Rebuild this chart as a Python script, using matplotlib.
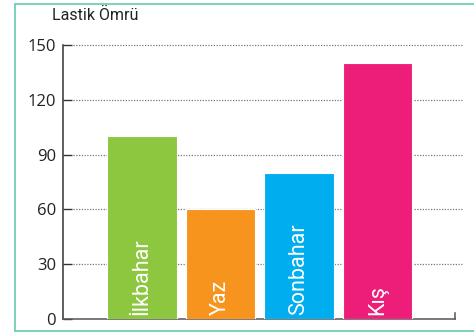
import matplotlib.pyplot as plt
from matplotlib.lines import Line2D

seasons = ['İlkbahar', 'Yaz', 'Sonbahar', 'Kış']
tyre_life = [100, 60, 80, 140]
bar_colors = ['#8dc63f', '#f7941d', '#00aeef', '#ed1e79']
y_ticks = [0, 30, 60, 90, 120, 150]

fig = plt.figure(figsize=(4.74, 3.35), dpi=100)
ax = fig.add_axes([63/474, 15.7/335, (462-63)/474, (319.3-44.7)/335])

x = range(len(seasons))
ax.bar(x, tyre_life, width=0.88, color=bar_colors, edgecolor='white',
       linewidth=0.8, zorder=3)

# season names written vertically inside each bar
for i, name in enumerate(seasons):
    ax.text(i, 2.5, name, rotation=90, ha='center', va='bottom',
            color='white', fontsize=15.5, family='Roboto', zorder=4)

# dotted guide lines
for v in y_ticks[1:]:
    ax.plot([-0.88, 4.076], [v, v], ls=(0, (1, 1.2)), color='#777777',
            lw=0.9, zorder=1, clip_on=False)

ax.set_xticks([])
ax.set_yticks(y_ticks)
ax.set_yticklabels([str(v) for v in y_ticks], family='Open Sans', fontsize=12,
                   color='#222222')
ax.tick_params(axis='y', direction='in', length=6.5, width=1.0,
               color='#333333', pad=5)

for s in ['top', 'right']:
    ax.spines[s].set_visible(False)
ax.spines['left'].set_color('#333333')
ax.spines['left'].set_linewidth(1.1)
ax.spines['bottom'].set_color('#555555')
ax.spines['bottom'].set_linewidth(1.1)
ax.spines['bottom'].set_bounds(-1.006, 3.987)
ax.plot([3.987, 3.987], [0, 3.5], color='#555555', lw=1.1, clip_on=False)

ax.set_xlim(-1.006, 4.076)
ax.set_ylim(0, 150)

fig.text(52/474, 1 - 15/335, 'Lastik Ömrü', family='Roboto', fontsize=11.5,
         color='#222222', va='center', ha='left')

# frame around the chart
frame_color = '#6fcfb8'
fig.add_artist(Line2D([14.5/474, 14.5/474], [1 - 3.5/335, 1 - 331/335],
                      color=frame_color, lw=1.3))
fig.add_artist(Line2D([14.5/474, 1.0], [1 - 3.5/335, 1 - 3.5/335],
                      color=frame_color, lw=1.3))
fig.add_artist(Line2D([14.5/474, 1.0], [1 - 331/335, 1 - 331/335],
                      color=frame_color, lw=1.3))

fig.savefig('out.png', dpi=100)
